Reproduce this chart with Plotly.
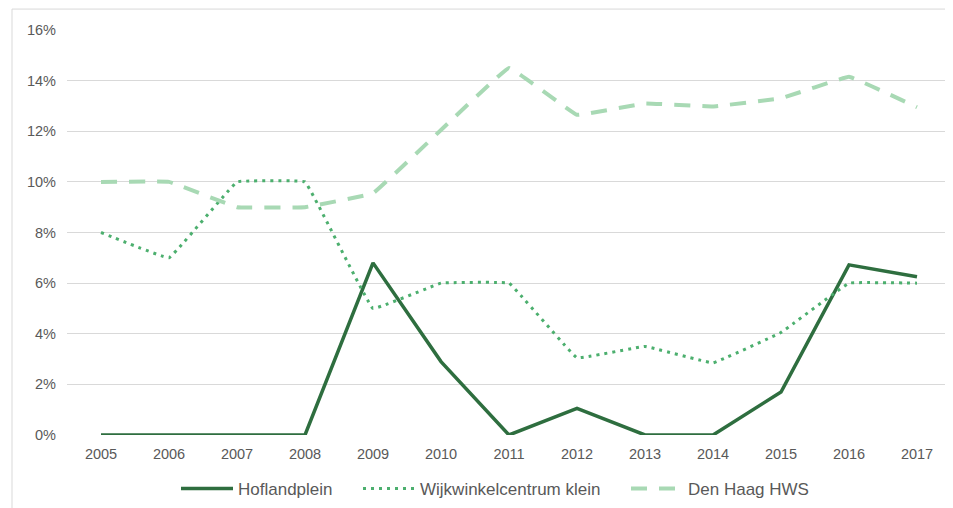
import plotly.graph_objects as go

# Data (percentages)
years = ['2005', '2006', '2007', '2008', '2009', '2010', '2011',
         '2012', '2013', '2014', '2015', '2016', '2017']
hoflandplein = [0, 0, 0, 0, 6.8, 2.9, 0, 1.05, 0, 0, 1.7, 6.72, 6.25]
wijkwinkelcentrum_klein = [8, 7, 10, 10, 5, 6, 6, 3.05, 3.5, 2.85, 4.05, 6, 6]
den_haag_hws = [10, 10, 9, 9, 9.55, 12.05, 14.5, 12.65, 13.1, 12.98, 13.3, 14.15, 12.95]
y_ticks = [0, 2, 4, 6, 8, 10, 12, 14, 16]
y_tick_labels = [f'{v}%' for v in y_ticks]

FONT = 'Liberation Sans, Arial, sans-serif'
TEXT = '#595959'
GRID = '#d9d9d9'

fig = go.Figure()

fig.add_trace(go.Scatter(
    x=years, y=hoflandplein, mode='lines', name='Hoflandplein', legend='legend',
    line=dict(color='#2e6e3f', width=3.5)
))
fig.add_trace(go.Scatter(
    x=years, y=wijkwinkelcentrum_klein, mode='lines', name='Wijkwinkelcentrum klein',
    legend='legend2',
    line=dict(color='#4caf6e', width=3, dash='3px,5px', shape='spline', smoothing=0.15)
))
fig.add_trace(go.Scatter(
    x=years, y=den_haag_hws, mode='lines', name='Den Haag HWS', legend='legend3',
    line=dict(color='#a8d9b4', width=4, dash='16px,12px', shape='spline', smoothing=0.15)
))

# page has an 8px body margin, so the figure is 945x500
W, H = 945, 500
plot_l, plot_r, plot_t, plot_b = 59, 943, 21.5, 428
pw, ph = plot_r - plot_l, plot_b - plot_t

# light frame around the whole chart
fig.add_shape(
    type='rect', xref='paper', yref='paper',
    x0=(4 - plot_l) / pw, x1=1.2, y0=-0.5, y1=1 + (plot_t - 0.5) / ph,
    line=dict(color=GRID, width=1), fillcolor='rgba(0,0,0,0)', layer='below'
)


def legend_at(px_left):
    # one legend per series so the gaps match the reference
    return dict(
        orientation='h', x=(px_left - plot_l) / pw, xanchor='left',
        y=(plot_b - 481) / ph, yanchor='middle',
        font=dict(family=FONT, size=17, color=TEXT),
        itemwidth=52, bgcolor='rgba(0,0,0,0)'
    )


fig.update_layout(
    width=W, height=H,
    margin=dict(l=plot_l, r=W - plot_r, t=plot_t, b=H - plot_b),
    paper_bgcolor='white', plot_bgcolor='white',
    font=dict(family=FONT, size=14, color=TEXT),
    showlegend=True,
    legend=legend_at(168),
    legend2=legend_at(350),
    legend3=legend_at(618),
    xaxis=dict(
        type='category', range=[-0.5, 12.5], showgrid=False, zeroline=False,
        showline=False, ticks='', ticklabelstandoff=8,
        tickfont=dict(size=14.5, color=TEXT)
    ),
    yaxis=dict(
        range=[0, 16], tickvals=y_ticks, ticktext=y_tick_labels, showgrid=True,
        gridcolor=GRID, gridwidth=1, zeroline=False, showline=False,
        ticks='', ticklabelstandoff=10, tickfont=dict(size=14.5, color=TEXT)
    ),
)

fig.write_html('out.html')
